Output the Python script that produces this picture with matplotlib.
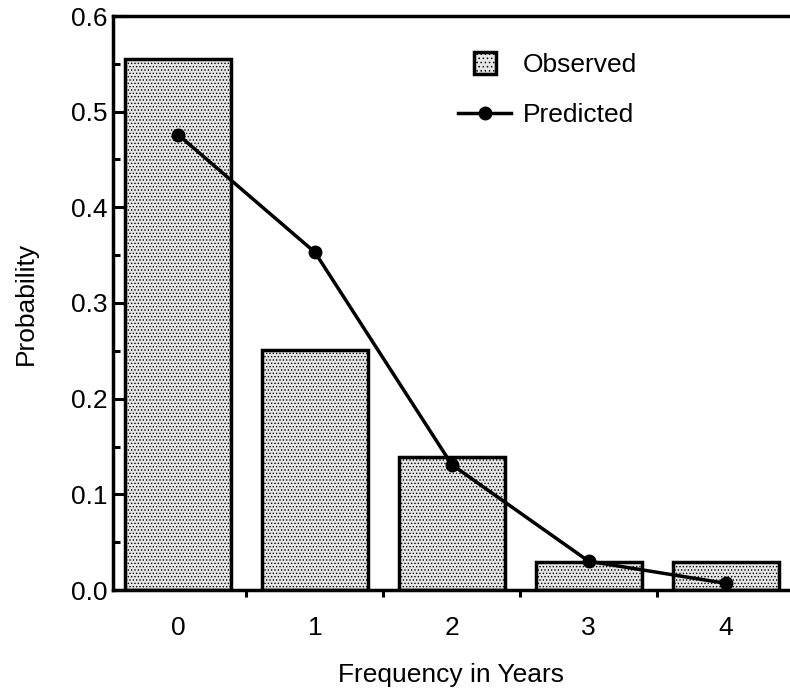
import matplotlib
matplotlib.use("Agg")
import matplotlib.pyplot as plt
from matplotlib.patches import Rectangle, Patch
from matplotlib.legend_handler import HandlerPatch
import numpy as np

plt.rcParams['font.family'] = ['Liberation Sans', 'DejaVu Sans']
plt.rcParams['hatch.color'] = '#a0a0a0'
plt.rcParams['hatch.linewidth'] = 0.6

categories = [0, 1, 2, 3, 4]
observed = [0.555, 0.251, 0.139, 0.029, 0.029]
predicted = [0.476, 0.353, 0.131, 0.030, 0.007]
yticks = [0.0, 0.1, 0.2, 0.3, 0.4, 0.5, 0.6]
ytick_labels = ["0.0", "0.1", "0.2", "0.3", "0.4", "0.5", "0.6"]

FS = 19
LW = 2.5

fig = plt.figure(figsize=(7.9, 6.92), dpi=100)
ax = fig.add_axes([113/790, 102/692, 677/790, 574/692])

x = np.array(categories)
bars = ax.bar(x, observed, width=0.775, facecolor='#e6e6e6', edgecolor='black',
              linewidth=LW, hatch='.....', zorder=2)
line, = ax.plot(x, predicted, color='black', linewidth=LW, marker='o',
                markersize=9, zorder=3)

ax.set_xlim(-0.475, 4.47)
ax.set_ylim(0, 0.6)

ax.set_xticks(x)
ax.set_xticklabels([str(c) for c in categories], fontsize=FS)
ax.set_xticks(x[:-1] + 0.5, minor=True)
ax.tick_params(axis='x', which='major', length=0, pad=19)
ax.tick_params(axis='x', which='minor', direction='out', length=5, width=2.2)

ax.set_yticks(yticks)
ax.set_yticklabels(ytick_labels, fontsize=FS)
ax.set_yticks(np.arange(0.05, 0.6, 0.1), minor=True)
ax.tick_params(axis='y', which='major', direction='in', length=10, width=2.2, pad=4)
ax.tick_params(axis='y', which='minor', direction='in', length=5, width=2.2)

for s in ['left', 'top', 'bottom']:
    ax.spines[s].set_linewidth(LW)
ax.spines['right'].set_visible(False)

ax.set_xlabel('Frequency in Years', fontsize=FS, labelpad=16)
ax.set_ylabel('Probability', fontsize=FS, labelpad=24)


def square_patch(legend, orig_handle, xdescent, ydescent, width, height, fontsize):
    side = height * 1.2
    return Rectangle((xdescent + width / 2 - side / 2, ydescent + height / 2 - side / 2),
                     side, side)


obs_proxy = Patch(facecolor='#e6e6e6', edgecolor='black', linewidth=LW, hatch='....')
leg = ax.legend(handles=[obs_proxy, line], labels=['Observed', 'Predicted'],
                loc='upper left', bbox_to_anchor=(0.475, 0.977), frameon=False,
                fontsize=FS, handlelength=2.0, handletextpad=0.45, labelspacing=1.0,
                handler_map={obs_proxy: HandlerPatch(patch_func=square_patch)})

fig.savefig('out.png', dpi=100)
